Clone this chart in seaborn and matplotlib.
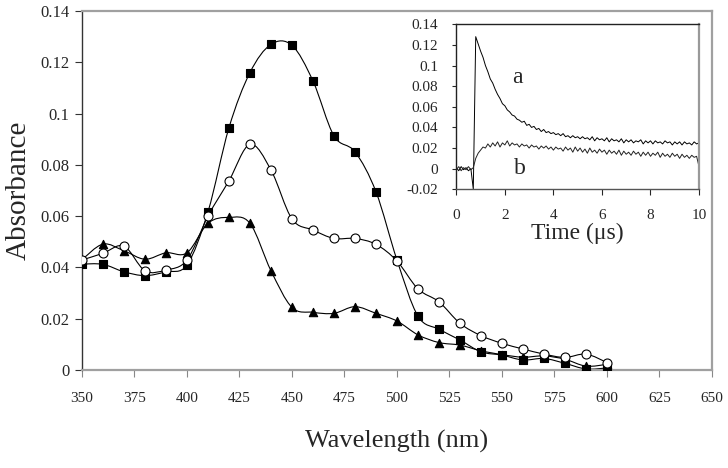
import numpy as np
import matplotlib
matplotlib.use("Agg")
import matplotlib.pyplot as plt
from matplotlib.path import Path
from matplotlib.patches import PathPatch
from matplotlib.ticker import FuncFormatter
import seaborn as sns

# transient absorption spectra
wavelength = [350, 360, 370, 380, 390, 400, 410, 420, 430, 440, 450, 460, 470,
              480, 490, 500, 510, 520, 530, 540, 550, 560, 570, 580, 590, 600]
abs_square = [0.0413, 0.0412, 0.0383, 0.0368, 0.0383, 0.0410, 0.0617, 0.0945,
              0.1160, 0.1270, 0.1266, 0.1127, 0.0913, 0.0851, 0.0695, 0.0429,
              0.0210, 0.0159, 0.0117, 0.0071, 0.0058, 0.0039, 0.0045, 0.0026,
              0.0004, 0.0008]
abs_circle = [0.0429, 0.0455, 0.0483, 0.0387, 0.0390, 0.0429, 0.0600, 0.0738,
              0.0880, 0.0780, 0.0589, 0.0546, 0.0513, 0.0513, 0.0490, 0.0425,
              0.0316, 0.0266, 0.0182, 0.0134, 0.0104, 0.0082, 0.0062, 0.0049,
              0.0062, 0.0029]
abs_triangle = [0.0430, 0.0491, 0.0465, 0.0432, 0.0457, 0.0457, 0.0572, 0.0595,
                0.0572, 0.0387, 0.0244, 0.0225, 0.0221, 0.0247, 0.0221, 0.0191,
                0.0137, 0.0107, 0.0097, 0.0075, 0.0060, 0.0050, 0.0055, 0.0042,
                0.0015, 0.0022]

# inset kinetic traces
time_us = [0.0, 0.1, 0.2, 0.3, 0.4, 0.5, 0.6, 0.7, 0.8, 0.9,
           1.0, 1.1, 1.2, 1.3, 1.4, 1.5, 1.6, 1.7, 1.8, 1.9,
           2.0, 2.1, 2.2, 2.3, 2.4, 2.5, 2.6, 2.7, 2.8, 2.9,
           3.0, 3.1, 3.2, 3.3, 3.4, 3.5, 3.6, 3.7, 3.8, 3.9,
           4.0, 4.1, 4.2, 4.3, 4.4, 4.5, 4.6, 4.7, 4.8, 4.9,
           5.0, 5.1, 5.2, 5.3, 5.4, 5.5, 5.6, 5.7, 5.8, 5.9,
           6.0, 6.1, 6.2, 6.3, 6.4, 6.5, 6.6, 6.7, 6.8, 6.9,
           7.0, 7.1, 7.2, 7.3, 7.4, 7.5, 7.6, 7.7, 7.8, 7.9,
           8.0, 8.1, 8.2, 8.3, 8.4, 8.5, 8.6, 8.7, 8.8, 8.9,
           9.0, 9.1, 9.2, 9.3, 9.4, 9.5, 9.6, 9.7, 9.8, 9.9, 10.0]
trace_a = [0.001, -0.002, 0.002, -0.001, 0.001, -0.002, 0.000, -0.020, 0.128, 0.121,
           0.114, 0.108, 0.100, 0.094, 0.087, 0.083, 0.077, 0.072, 0.068, 0.063,
           0.061, 0.057, 0.055, 0.052, 0.051, 0.048, 0.047, 0.045, 0.046, 0.042,
           0.043, 0.040, 0.041, 0.038, 0.039, 0.036, 0.038, 0.035, 0.036, 0.034,
           0.035, 0.033, 0.034, 0.032, 0.034, 0.031, 0.032, 0.030, 0.032, 0.030,
           0.031, 0.029, 0.031, 0.029, 0.030, 0.028, 0.031, 0.027, 0.030, 0.028,
           0.029, 0.027, 0.030, 0.026, 0.029, 0.027, 0.028, 0.026, 0.029, 0.025,
           0.028, 0.026, 0.028, 0.025, 0.027, 0.026, 0.028, 0.024, 0.027, 0.025,
           0.027, 0.024, 0.027, 0.025, 0.026, 0.024, 0.027, 0.025, 0.026, 0.023,
           0.026, 0.024, 0.026, 0.023, 0.026, 0.024, 0.025, 0.023, 0.026, 0.024, 0.025]
trace_b = [-0.001, 0.002, -0.002, 0.001, -0.001, 0.002, -0.001, 0.001, 0.010, 0.015,
           0.018, 0.021, 0.020, 0.024, 0.021, 0.025, 0.022, 0.026, 0.021, 0.025,
           0.023, 0.027, 0.022, 0.025, 0.023, 0.024, 0.021, 0.024, 0.022, 0.023,
           0.020, 0.023, 0.021, 0.022, 0.019, 0.022, 0.020, 0.022, 0.019, 0.021,
           0.018, 0.021, 0.019, 0.020, 0.017, 0.021, 0.018, 0.020, 0.016, 0.021,
           0.017, 0.020, 0.016, 0.019, 0.015, 0.020, 0.016, 0.018, 0.015, 0.019,
           0.016, 0.018, 0.014, 0.018, 0.015, 0.017, 0.014, 0.018, 0.013, 0.017,
           0.014, 0.016, 0.013, 0.017, 0.014, 0.016, 0.012, 0.016, 0.013, 0.016,
           0.012, 0.015, 0.013, 0.016, 0.011, 0.015, 0.012, 0.014, 0.011, 0.015,
           0.012, 0.014, 0.010, 0.014, 0.011, 0.013, 0.010, 0.013, 0.011, 0.012, 0.002]


def smooth_path(x, y):
    # excel style smoothed line: catmull-rom segments as cubic beziers
    pts = np.column_stack([x, y]).astype(float)
    n = len(pts)
    verts = [pts[0]]
    codes = [Path.MOVETO]
    for i in range(n - 1):
        p0 = pts[max(i - 1, 0)]
        p1 = pts[i]
        p2 = pts[i + 1]
        p3 = pts[min(i + 2, n - 1)]
        verts += [p1 + (p2 - p0) / 6, p2 - (p3 - p1) / 6, p2]
        codes += [Path.CURVE4] * 3
    return Path(verts, codes)


sns.set_style("white")
plt.rcParams['font.family'] = ['Liberation Serif', 'DejaVu Serif']

fig = plt.figure(figsize=(7.28, 4.68), dpi=100)
ax = fig.add_axes([0.1126, 0.2094, 0.8654, 0.7671])

for yvals, mk, face, ms in [(abs_triangle, '^', 'black', 36),
                             (abs_square, 's', 'black', 34),
                             (abs_circle, 'o', 'white', 42)]:
    ax.add_patch(PathPatch(smooth_path(wavelength, yvals), facecolor='none',
                           edgecolor='black', lw=0.8, zorder=2))
    sns.scatterplot(x=wavelength, y=yvals, ax=ax, marker=mk, s=ms,
                    color=face, edgecolor='black', linewidth=0.8, zorder=3)

ax.set_xlim(350, 650)
ax.set_ylim(0, 0.14)
ax.set_xticks(np.arange(350, 651, 25))
ax.set_yticks(np.arange(0, 0.141, 0.02))
ax.yaxis.set_major_formatter(FuncFormatter(lambda v, p: '{:g}'.format(round(v, 3))))
ax.tick_params(axis='x', direction='out', length=5, width=0.8, color='#888888',
               labelsize=11, pad=11)
ax.tick_params(axis='y', direction='out', length=5, width=0.8, color='#333333',
               labelsize=12, pad=4)
ax.tick_params(bottom=True, left=True)
for side in ['top', 'right', 'bottom']:
    ax.spines[side].set_color('#a0a0a0')
    ax.spines[side].set_linewidth(1.6)
ax.spines['left'].set_color('#333333')
ax.spines['left'].set_linewidth(1.0)
ax.set_xlabel('Wavelength (nm)', fontsize=19, labelpad=18)
ax.set_ylabel('Absorbance', fontsize=21, labelpad=6)

# inset with kinetic traces
axin = fig.add_axes([0.6268, 0.5955, 0.3334, 0.3526])
axin.set_facecolor('white')
sns.lineplot(x=time_us, y=trace_a, ax=axin, color='black', lw=0.7,
             estimator=None, sort=False)
sns.lineplot(x=time_us, y=trace_b, ax=axin, color='#222222', lw=0.7,
             estimator=None, sort=False)
axin.set_xlim(0, 10)
axin.set_ylim(-0.02, 0.14)
axin.set_xticks(np.arange(0, 11, 2))
axin.set_yticks(np.arange(-0.02, 0.141, 0.02))
axin.yaxis.set_major_formatter(FuncFormatter(lambda v, p: '{:g}'.format(round(v, 3))))
axin.tick_params(axis='x', direction='out', length=4, width=0.8, labelsize=11, pad=10)
axin.tick_params(axis='y', direction='out', length=3, width=0.8, labelsize=11, pad=10)
axin.tick_params(bottom=True, left=True)
for side in ['left', 'top']:
    axin.spines[side].set_color('#222222')
    axin.spines[side].set_linewidth(1.0)
axin.spines['bottom'].set_color('#555555')
axin.spines['bottom'].set_linewidth(1.0)
axin.spines['right'].set_color('#999999')
axin.spines['right'].set_linewidth(1.6)
axin.set_xlabel('Time (μs)', fontsize=17, labelpad=1)
axin.set_ylabel('')
axin.text(2.5, 0.088, 'a', fontsize=17, ha='center', va='center')
axin.text(2.62, 0.0, 'b', fontsize=17, ha='center', va='center')

fig.savefig('out.png', dpi=100)
